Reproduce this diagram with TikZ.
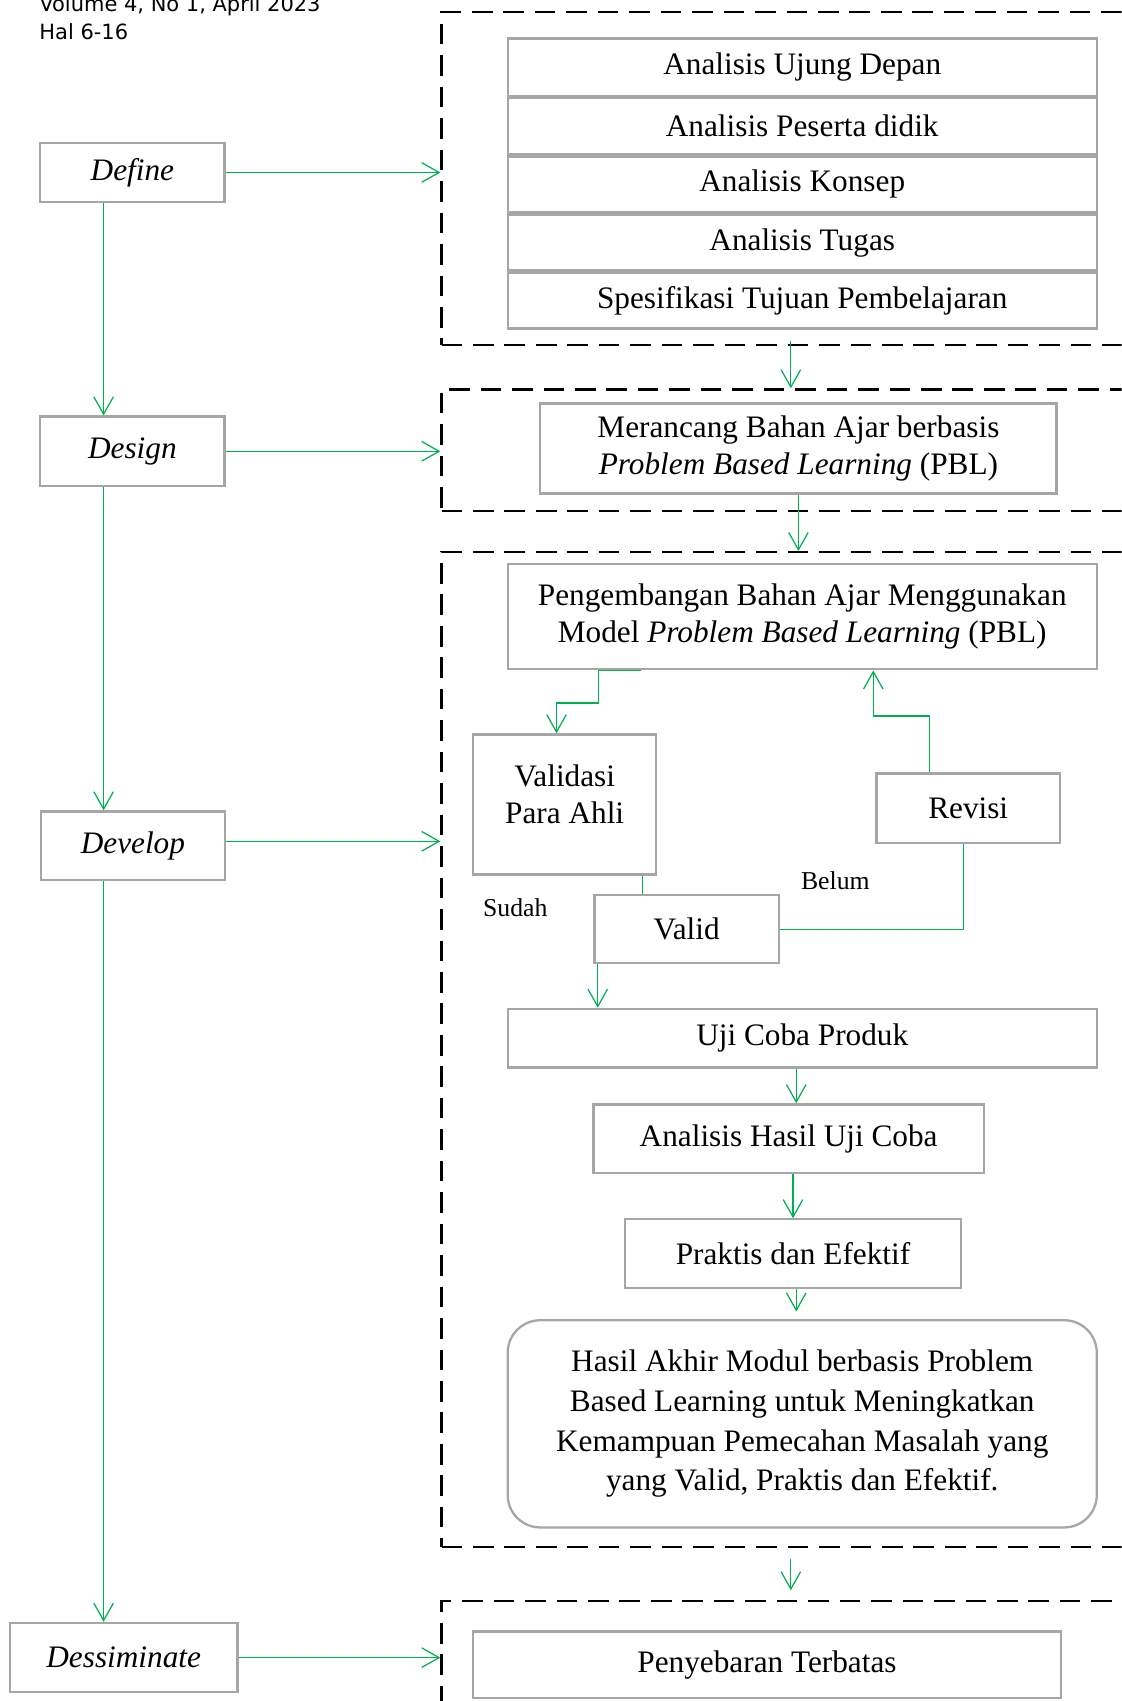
\documentclass[tikz,border=0pt]{standalone}
\usepackage{fontspec}
\setmainfont{Liberation Serif}
\newfontfamily\hdrfont{DejaVu Sans}
\usepackage{tikz}
\usetikzlibrary{positioning,arrows.meta,calc}
\definecolor{flowgreen}{RGB}{0,176,80}
\definecolor{boxgray}{RGB}{166,166,166}

\begin{document}
\begin{tikzpicture}[
  phase/.style={draw=boxgray, line width=1.2pt, align=center,
    minimum width=3.4cm, minimum height=1.28cm, font=\fontsize{16.4}{19.5}\selectfont\itshape},
  stepbox/.style={draw=boxgray, line width=1.2pt, align=center,
    minimum width=10.86cm, minimum height=1.03cm, font=\fontsize{16.4}{19.5}\selectfont},
  region/.style={draw, line width=1.2pt, dash pattern=on 0.38cm off 0.2cm,
    minimum width=13.06cm},
  note/.style={font=\fontsize{13.5}{16}\selectfont},
  hdr/.style={font=\hdrfont\fontsize{11}{13}\selectfont, anchor=base west, inner sep=0pt},
  arr/.style={-{Straight Barb[length=3.2mm, width=3.6mm]}, flowgreen, line width=0.65pt},
  link/.style={flowgreen, line width=0.65pt}
]
  \useasboundingbox (0,0) rectangle (20.68,-31.36);
  \clip (0,0) rectangle (20.68,-31.36);

  % --- Header ---
  \node[hdr] (hdr1) at (0.72,-0.22) {Volume 4, No 1, April 2023};
  \node[hdr] (hdr2) at (0.72,-0.73) {Hal 6-16};

  % --- Phases ---
  \coordinate (spine) at (1.91,0);
  \node[phase, minimum height=1.08cm] (define) at (2.44,-3.18)  {Define};
  \node[phase]                        (design) at (2.44,-8.32)  {Design};
  \node[phase, minimum height=1.26cm] (develop) at (2.45,-15.59) {Develop};
  \node[phase, minimum width=4.2cm]   (dissem) at (2.28,-30.56) {Dessiminate};

  \draw[arr] (define.south -| spine)  -- (design.north -| spine);
  \draw[arr] (design.south -| spine)  -- (develop.north -| spine);
  \draw[arr] (develop.south -| spine) -- (dissem.north -| spine);

  % --- Dashed regions ---
  \node[region, minimum height=6.14cm]  (rdef) at (14.67,-3.29)  {};
  \node[region, minimum height=2.24cm]  (rdes) at (14.67,-8.30)  {};
  \node[region, minimum height=18.34cm] (rdev) at (14.67,-19.35) {};
  \node[region, minimum height=2.48cm]  (rdis) at (14.67,-30.76) {};

  \draw[arr] (define.east)  -- (define.east -| rdef.west);
  \draw[arr] (design.east)  -- (design.east -| rdes.west);
  \draw[arr] ([yshift=0.08cm]develop.east) -- ([yshift=0.08cm]develop.east -| rdev.west);
  \draw[arr] (dissem.east)  -- (dissem.east -| rdis.west);

  % --- Define ---
  \node[stepbox, minimum height=1.06cm] (ujung) at (14.79,-1.24) {Analisis Ujung Depan};
  \node[stepbox, below=0pt of ujung]   (siswa)   {Analisis Peserta didik};
  \node[stepbox, below=0pt of siswa]   (konsep)  {Analisis Konsep};
  \node[stepbox, below=0pt of konsep]  (tugas)   {Analisis Tugas};
  \node[stepbox, below=0pt of tugas]   (tujuan)  {Spesifikasi Tujuan Pembelajaran};

  \draw[arr] ([xshift=-0.09cm, yshift=0.1cm]rdef.south) -- ([xshift=-0.09cm]rdes.north);

  % --- Design ---
  \node[stepbox, minimum width=9.52cm, minimum height=1.66cm] (rancang) at (14.72,-8.27)
    {Merancang Bahan Ajar berbasis\\\textit{Problem Based Learning} (PBL)};
  \draw[arr] (rancang.south) -- (rancang.south |- rdev.north);

  % --- Develop ---
  \node[stepbox, minimum height=1.94cm] (kembang) at (14.79,-11.37)
    {Pengembangan Bahan Ajar Menggunakan\\Model \textit{Problem Based Learning} (PBL)};
  \node[stepbox, minimum width=3.38cm, minimum height=2.58cm, text depth=0.38cm] (validasi) at (10.41,-14.83)
    {Validasi\\Para Ahli};
  \node[stepbox, minimum width=3.4cm, minimum height=1.26cm]  (valid)  at (12.66,-17.13) {Valid};
  \node[stepbox, minimum width=3.38cm, minimum height=1.28cm] (revisi) at (17.85,-14.9)  {Revisi};
  \node[note] (sudah) at (9.5,-16.74)  {Sudah};
  \node[note] (belum) at (15.4,-16.24) {Belum};

  \draw[arr] ([xshift=-2.97cm]kembang.south) -- ++(-0.78,0) -- ++(0,-0.6) -| ([xshift=-0.15cm]validasi.north);
  \draw[link] ([xshift=1.43cm]validasi.south) -- ([xshift=1.43cm]validasi.south |- valid.north);
  \draw[link] (valid.east) -| ([xshift=-0.09cm]revisi.south);
  \draw[arr] ([xshift=-0.71cm]revisi.north) -- ++(0,1.04) -| ([xshift=1.31cm]kembang.south);

  \node[stepbox, minimum height=1.08cm] (uji) at (14.79,-19.14) {Uji Coba Produk};
  \node[stepbox, minimum width=7.2cm, minimum height=1.26cm] (hasiluji) at (14.54,-20.99) {Analisis Hasil Uji Coba};
  \node[stepbox, minimum width=6.2cm, minimum height=1.26cm] (praktis)  at (14.62,-23.11) {Praktis dan Efektif};
  \node[stepbox, minimum height=3.82cm, rounded corners=0.6cm, font=\fontsize{16.4}{20.8}\selectfont] (akhir) at (14.79,-26.25)
    {Hasil Akhir Modul berbasis Problem\\Based Learning untuk Meningkatkan\\Kemampuan Pemecahan Masalah yang\\yang Valid, Praktis dan Efektif.};

  \draw[arr] ([xshift=-1.64cm]valid.south) -- ([xshift=-1.64cm]valid.south |- uji.north);
  \draw[arr] ([xshift=-0.11cm]uji.south) -- ([xshift=-0.11cm]uji.south |- hasiluji.north);
  \draw[arr] ([xshift=0.08cm]hasiluji.south) -- ([xshift=0.08cm]hasiluji.south |- praktis.north);
  \draw[arr, shorten >=0.14cm] ([xshift=0.06cm]praktis.south) -- ([xshift=0.06cm]praktis.south |- akhir.north);

  \draw[arr] ([xshift=-0.09cm, yshift=-0.2cm]rdev.south) -- ([xshift=-0.09cm, yshift=0.18cm]rdis.north);

  % --- Dessiminate ---
  \node[stepbox, minimum width=10.84cm, minimum height=1.22cm] (sebar) at (14.14,-30.69) {Penyebaran Terbatas};
\end{tikzpicture}
\end{document}
